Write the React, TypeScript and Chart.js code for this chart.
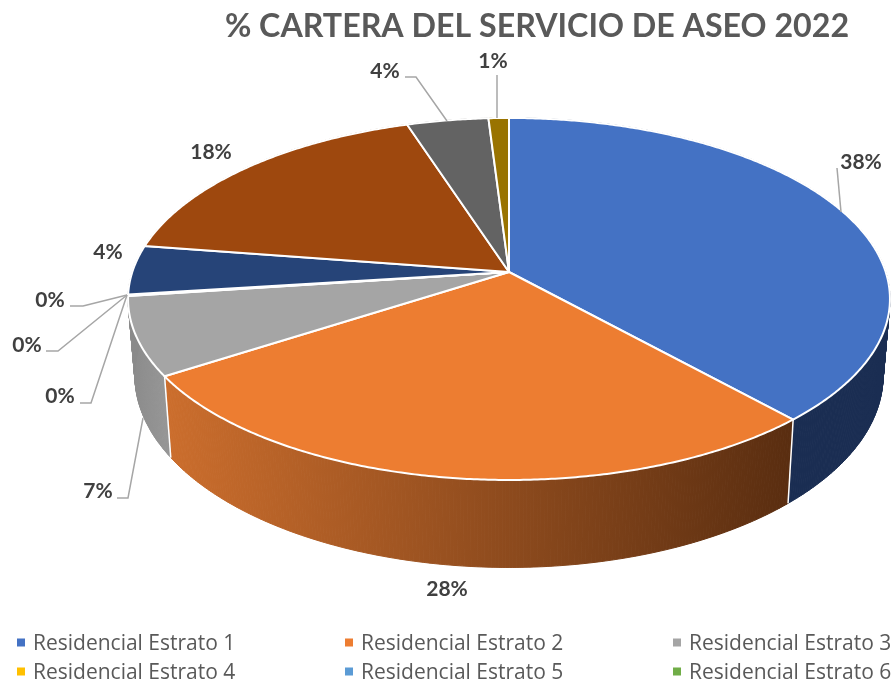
import React, { useEffect, useRef } from "react";
import { Chart, registerables } from "chart.js";

Chart.register(...registerables);

const titleText = "% CARTERA DEL SERVICIO DE ASEO 2022";
const categories = [
  "Residencial Estrato 1",
  "Residencial Estrato 2",
  "Residencial Estrato 3",
  "Residencial Estrato 4",
  "Residencial Estrato 5",
  "Residencial Estrato 6",
  "Categoría 7",
  "Categoría 8",
  "Categoría 9",
  "Categoría 10",
];
const values = [38.3, 27.6, 7.0, 0.04, 0.04, 0.04, 4.4, 17.6, 4, 1];
const sliceColors = ["#4472C4", "#ED7D31", "#A5A5A5", "#FFC000", "#5B9BD5", "#70AD47", "#264478", "#9E480E", "#636363", "#997300"];
const wallColors: [string, string][] = [
  ["#1A2D52", "#1A2D52"],
  ["#CC6E2D", "#592D10"],
  ["#8A8A8A", "#959595"],
  ["#8A8A8A", "#8A8A8A"],
  ["#8A8A8A", "#8A8A8A"],
  ["#8A8A8A", "#8A8A8A"],
  ["#8A8A8A", "#8A8A8A"],
  ["#5F2B08", "#5F2B08"],
  ["#3B3B3B", "#3B3B3B"],
  ["#5C4500", "#5C4500"],
];
const legendCount = 6;

// layout of the tilted disc
const disc = { cx: 509, cy: 272, r: 376.7, flat: 177 / 376.7, persp: 0.149 };
const base = { scaleX: 0.982, scaleY: 1.06, drop: 75 };
// label centres and leader polylines, in slice order
const labelCentres = [
  [861, 162], [447, 589], [98, 491], [60, 396], [27, 345], [50, 300], [108, 252], [211, 152], [385, 71], [493, 61],
];
const leaders: number[][][] = [
  [[837, 168], [841, 212]],
  [],
  [[143, 418], [128, 498], [117, 498]],
  [[127, 295], [91, 403], [80, 403]],
  [[127, 295], [58, 351], [46, 351]],
  [[127, 295], [83, 306], [70, 306]],
  [],
  [],
  [[405, 77], [416, 77], [447, 121]],
  [[497, 75], [497, 118]],
];
const legendCols = [17, 345, 673];
const legendRows = [642.5, 671.5];

function project(a: number): [number, number] {
  const u = Math.cos(a);
  const v = Math.sin(a);
  const w = 1 - disc.persp * v;
  return [disc.cx + (disc.r * u) / w, disc.cy + (disc.r * disc.flat * v) / w];
}
function projectBase(a: number): [number, number] {
  const [x, y] = project(a);
  return [disc.cx + (x - disc.cx) * base.scaleX, disc.cy + base.drop + (y - disc.cy) * base.scaleY];
}
function sampleAngles(a0: number, a1: number): number[] {
  const n = Math.max(2, Math.ceil((a1 - a0) / 0.008));
  const out: number[] = [];
  for (let i = 0; i <= n; i++) out.push(a0 + ((a1 - a0) * i) / n);
  return out;
}

const pie3d = {
  id: "pie3d",
  beforeDatasetsDraw(chart: any) {
    const ctx: CanvasRenderingContext2D = chart.ctx;
    const arcs = chart.getDatasetMeta(0).data as any[];
    ctx.save();
    ctx.lineJoin = "round";
    // side wall
    arcs.forEach((arc, i) => {
      const { startAngle, endAngle } = arc;
      const angles = sampleAngles(startAngle, endAngle);
      const top = angles.map(project);
      const bot = angles.map(projectBase);
      const xs = top.map((p) => p[0]);
      const g = ctx.createLinearGradient(Math.min(...xs), 0, Math.max(...xs), 0);
      g.addColorStop(0, wallColors[i][0]);
      g.addColorStop(1, wallColors[i][1]);
      ctx.fillStyle = g;
      ctx.strokeStyle = g;
      ctx.lineWidth = 1;
      for (let k = 0; k < angles.length - 1; k++) {
        ctx.beginPath();
        ctx.moveTo(top[k][0], top[k][1]);
        ctx.lineTo(top[k + 1][0], top[k + 1][1]);
        ctx.lineTo(bot[k + 1][0], bot[k + 1][1]);
        ctx.lineTo(bot[k][0], bot[k][1]);
        ctx.closePath();
        ctx.fill();
        ctx.stroke();
      }
    });
    // wall seams
    ctx.strokeStyle = "#FFFFFF";
    ctx.lineWidth = 1.5;
    arcs.forEach((arc) => {
      const s = Math.sin(arc.startAngle);
      if (s > 0.3 && arc.endAngle - arc.startAngle > 0.01) {
        const a = project(arc.startAngle);
        const b = projectBase(arc.startAngle);
        ctx.beginPath();
        ctx.moveTo(a[0], a[1]);
        ctx.lineTo(b[0], b[1]);
        ctx.stroke();
      }
    });
    // top face
    arcs.forEach((arc, i) => {
      const pts = sampleAngles(arc.startAngle, arc.endAngle).map(project);
      ctx.beginPath();
      ctx.moveTo(disc.cx, disc.cy);
      pts.forEach((p) => ctx.lineTo(p[0], p[1]));
      ctx.closePath();
      ctx.fillStyle = sliceColors[i];
      ctx.fill();
      ctx.strokeStyle = "#FFFFFF";
      ctx.lineWidth = 2;
      ctx.stroke();
    });
    ctx.restore();
    return false;
  },
  afterDraw(chart: any) {
    const ctx: CanvasRenderingContext2D = chart.ctx;
    const total = values.reduce((a, b) => a + b, 0);
    ctx.save();
    // leader lines
    ctx.strokeStyle = "#A6A6A6";
    ctx.lineWidth = 1.5;
    leaders.forEach((line) => {
      if (!line.length) return;
      ctx.beginPath();
      line.forEach((p, k) => (k ? ctx.lineTo(p[0], p[1]) : ctx.moveTo(p[0], p[1])));
      ctx.stroke();
    });
    // value labels
    ctx.font = "bold 21px Lato";
    ctx.fillStyle = "#404040";
    ctx.textAlign = "center";
    ctx.textBaseline = "middle";
    values.forEach((v, i) => {
      ctx.fillText(`${Math.round((v / total) * 100)}%`, labelCentres[i][0], labelCentres[i][1]);
    });
    // legend
    ctx.font = "21px 'Open Sans'";
    ctx.textAlign = "left";
    categories.slice(0, legendCount).forEach((name, i) => {
      const x = legendCols[i % 3];
      const y = legendRows[Math.floor(i / 3)];
      ctx.fillStyle = sliceColors[i];
      ctx.fillRect(x, y - 4, 8, 8);
      ctx.fillStyle = "#595959";
      ctx.fillText(name, x + 16, y + 1.5);
    });
    ctx.restore();
  },
};

export default function App() {
  const ref = useRef<HTMLCanvasElement>(null);
  useEffect(() => {
    const chart = new Chart(ref.current!, {
      type: "pie",
      data: {
        labels: categories,
        datasets: [{ data: values, backgroundColor: sliceColors, borderColor: "#FFFFFF", borderWidth: 2 }],
      },
      options: {
        responsive: false,
        animation: false,
        layout: { padding: { left: 180 } },
        plugins: {
          legend: { display: false },
          tooltip: { enabled: false },
          title: {
            display: true,
            text: titleText,
            fullSize: false,
            color: "#595959",
            font: { family: "Lato", size: 32.2, weight: "bold" },
            padding: { top: 7, bottom: 0 },
          },
        },
      } as any,
      plugins: [pie3d],
    });
    return () => chart.destroy();
  }, []);
  return (
    <canvas
      ref={ref}
      width={894}
      height={685}
      style={{ position: "absolute", left: 0, top: 0, display: "block", background: "#FFFFFF" }}
    />
  );
}
